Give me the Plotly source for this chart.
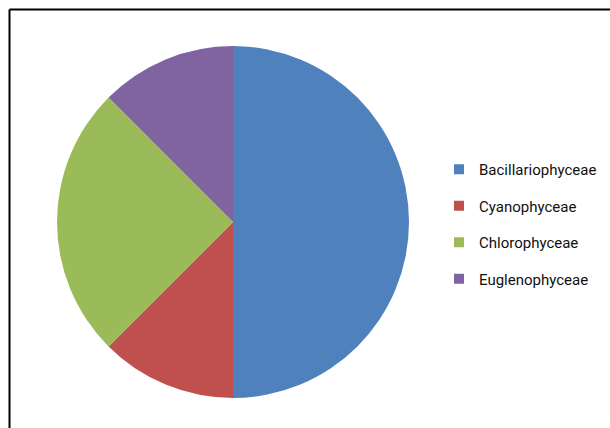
import plotly.graph_objects as go

labels = ["Bacillariophyceae", "Cyanophyceae", "Chlorophyceae", "Euglenophyceae"]
values = [50, 12.5, 25, 12.5]
colors = ["#4F81BD", "#C0504D", "#9BBB59", "#8064A2"]

W, H = 610, 428

fig = go.Figure()
fig.add_trace(go.Pie(
    labels=labels, values=values, sort=False, direction="clockwise", rotation=0,
    marker=dict(colors=colors, line=dict(width=0)),
    textinfo="none", hoverinfo="label+percent", showlegend=False,
    domain=dict(x=[57 / W, 409 / W], y=[1 - 398 / H, 1 - 46 / H]),
))
for lab, col in zip(labels, colors):
    fig.add_trace(go.Scatter(
        x=[None], y=[None], mode="markers", name=lab, legendgroup=lab,
        marker=dict(symbol="square", size=10, color=col),
    ))

fig.add_shape(type="line", xref="paper", yref="paper", x0=9.5 / W, x1=1.02, y0=1 - 9.5 / H, y1=1 - 9.5 / H,
              line=dict(color="black", width=2))
fig.add_shape(type="line", xref="paper", yref="paper", x0=9.5 / W, x1=9.5 / W, y0=-0.02, y1=1 - 9.5 / H,
              line=dict(color="black", width=2))

fig.update_layout(
    width=W, height=H, margin=dict(l=0, r=0, t=0, b=0),
    paper_bgcolor="white", plot_bgcolor="white",
    xaxis=dict(visible=False), yaxis=dict(visible=False),
    legend=dict(x=439 / W, xanchor="left", y=1 - 224 / H, yanchor="middle",
                font=dict(family="Roboto, sans-serif", size=15, color="#111"),
                tracegroupgap=14, itemwidth=30, bgcolor="rgba(0,0,0,0)"),
)
fig.write_html("out.html", config={"displayModeBar": False},
               post_script="document.body.style.margin='0';")
